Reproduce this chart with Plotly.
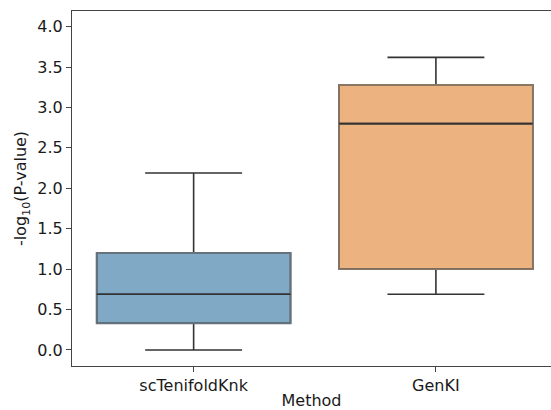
import plotly.graph_objects as go

# Box statistics per method (-log10 P-value)
methods = ["scTenifoldKnk", "GenKI"]
lower_whisker = [0.0, 0.69]
q1_values = [0.33, 1.0]
medians = [0.69, 2.80]
q3_values = [1.20, 3.28]
upper_whisker = [2.19, 3.62]

fill_colors = ["#80A9C6", "#ECB27F"]
outline_colors = ["#66737c", "#877767"]
edge_dark = "#333333"
box_width = 0.8

fig = go.Figure()
for i, name in enumerate(methods):
    fig.add_trace(go.Box(
        x=[i],
        q1=[q1_values[i]],
        median=[medians[i]],
        q3=[q3_values[i]],
        lowerfence=[lower_whisker[i]],
        upperfence=[upper_whisker[i]],
        width=box_width,
        whiskerwidth=0.5,
        fillcolor=fill_colors[i],
        line=dict(color=edge_dark, width=1.6),
        name=name,
        showlegend=False,
        hoverinfo="skip",
    ))
    # softer outline around the box body
    fig.add_shape(
        type="rect", xref="x", yref="y",
        x0=i - box_width / 2, x1=i + box_width / 2,
        y0=q1_values[i], y1=q3_values[i],
        line=dict(color=outline_colors[i], width=1.8),
        fillcolor="rgba(0,0,0,0)", layer="above",
    )
    # median line drawn on top of the outline
    fig.add_shape(
        type="line", xref="x", yref="y",
        x0=i - box_width / 2, x1=i + box_width / 2,
        y0=medians[i], y1=medians[i],
        line=dict(color=edge_dark, width=1.6), layer="above",
    )

axis_font = dict(family="DejaVu Sans", size=16, color="#1a1a1a")

fig.update_layout(
    width=551, height=410,
    margin=dict(l=72, r=0, t=11, b=44),
    plot_bgcolor="white", paper_bgcolor="white",
    font=axis_font,
    xaxis=dict(
        range=[-0.502, 1.475],
        tickmode="array", tickvals=list(range(len(methods))), ticktext=methods,
        showgrid=False, zeroline=False,
        showline=True, linecolor="#444444", linewidth=1, mirror=True,
        ticks="outside", ticklen=5, tickcolor="#444444",
        tickfont=axis_font,
        title=dict(text="Method", font=axis_font, standoff=2),
    ),
    yaxis=dict(
        range=[-0.198, 4.193],
        tickmode="array",
        tickvals=[0, 0.5, 1, 1.5, 2, 2.5, 3, 3.5, 4],
        ticktext=["0.0", "0.5", "1.0", "1.5", "2.0", "2.5", "3.0", "3.5", "4.0"],
        showgrid=False, zeroline=False,
        showline=True, linecolor="#444444", linewidth=1,
        ticks="outside", ticklen=5, tickcolor="#444444",
        tickfont=axis_font,
        title=dict(text="-log<sub>10</sub>(P-value)", font=axis_font, standoff=6),
    ),
)

fig.write_html("out.html")
